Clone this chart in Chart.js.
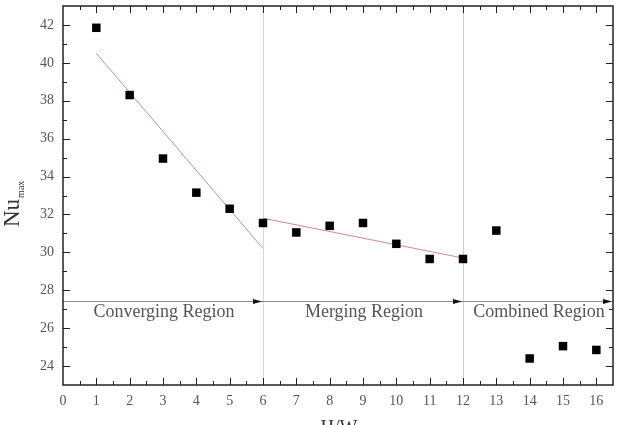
<!DOCTYPE html>
<html>
<head>
<meta charset="utf-8">
<script src="https://cdn.jsdelivr.net/npm/chart.js@4/dist/chart.umd.min.js"></script>
<style>
    html, body { margin: 0; padding: 0; background: #fff; }
    #wrap { width: 625px; height: 425px; position: relative; }
</style>
</head>
<body>
<div id="wrap"><canvas id="nuChart"></canvas></div>
<script>
// H/W ratio and measured Nu_max
const ratio = [1, 2, 3, 4, 5, 6, 7, 8, 9, 10, 11, 12, 13, 14, 15, 16];
const nuMax = [41.85, 38.3, 34.95, 33.15, 32.3, 31.55, 31.05, 31.4, 31.55, 30.45, 29.65, 29.65, 31.15, 24.4, 25.05, 24.85];

// linear fits drawn over the first two regions
const convergingFitX = [1, 6];
const convergingFitY = [40.5, 30.2];
const mergingFitX = [6, 12];
const mergingFitY = [31.8, 29.7];

// regions along the H/W axis
const regionBounds = [0, 6, 12, 16.5];
const regionNames = ['Converging Region', 'Merging Region', 'Combined Region'];
const regionArrowY = 27.43;

const xTicks = [0, 1, 2, 3, 4, 5, 6, 7, 8, 9, 10, 11, 12, 13, 14, 15, 16];
const yTicks = [24, 26, 28, 30, 32, 34, 36, 38, 40, 42];

const toPoints = (xs, ys) => xs.map((x, i) => ({ x: x, y: ys[i] }));

const serif = '"Liberation Serif", "DejaVu Serif", serif';

// region separators go under the markers
const separatorPlugin = {
    id: 'separators',
    beforeDatasetsDraw(chart) {
        const ctx = chart.ctx;
        const a = chart.chartArea;
        const xs = chart.scales.x;
        ctx.save();
        ctx.lineWidth = 1;
        const colors = ['#e6cfe0', '#d4c8ec'];
        [regionBounds[1], regionBounds[2]].forEach((v, i) => {
            const px = Math.round(xs.getPixelForValue(v)) + 0.5;
            ctx.strokeStyle = colors[i];
            ctx.beginPath();
            ctx.moveTo(px, a.top);
            ctx.lineTo(px, a.bottom);
            ctx.stroke();
        });
        ctx.restore();
    }
};

// frame, inward ticks, region arrows and axis titles
const decorPlugin = {
    id: 'decor',
    afterDatasetsDraw(chart) {
        const ctx = chart.ctx;
        const a = chart.chartArea;
        const xs = chart.scales.x;
        const ys = chart.scales.y;
        ctx.save();

        // region arrow line
        const ay = Math.round(ys.getPixelForValue(regionArrowY)) + 0.5;
        ctx.strokeStyle = '#8a8a8a';
        ctx.lineWidth = 1;
        ctx.beginPath();
        ctx.moveTo(a.left, ay);
        ctx.lineTo(a.right, ay);
        ctx.stroke();
        ctx.fillStyle = '#111';
        for (let i = 1; i < regionBounds.length; i++) {
            const tip = xs.getPixelForValue(regionBounds[i]) - 1;
            ctx.beginPath();
            ctx.moveTo(tip, ay);
            ctx.lineTo(tip - 9, ay - 2.5);
            ctx.lineTo(tip - 9, ay + 2.5);
            ctx.closePath();
            ctx.fill();
        }
        ctx.font = '18px ' + serif;
        ctx.fillStyle = '#555';
        ctx.textAlign = 'center';
        ctx.textBaseline = 'middle';
        regionNames.forEach((name, i) => {
            const c = (xs.getPixelForValue(regionBounds[i]) + xs.getPixelForValue(regionBounds[i + 1])) / 2;
            ctx.fillText(name, c + 1, ay + 11);
        });

        // inward ticks
        ctx.strokeStyle = '#222';
        ctx.lineWidth = 1;
        for (let v = 0.5; v <= 16.0001; v += 0.5) {
            const px = Math.round(xs.getPixelForValue(v)) + 0.5;
            const len = Number.isInteger(v) ? 7 : 4;
            ctx.beginPath();
            ctx.moveTo(px, a.bottom);
            ctx.lineTo(px, a.bottom - len);
            ctx.moveTo(px, a.top);
            ctx.lineTo(px, a.top + len);
            ctx.stroke();
        }
        for (let v = 24; v <= 42; v += 1) {
            const py = Math.round(ys.getPixelForValue(v)) + 0.5;
            const len = v % 2 === 0 ? 7 : 4;
            ctx.beginPath();
            ctx.moveTo(a.left, py);
            ctx.lineTo(a.left + len, py);
            ctx.moveTo(a.right, py);
            ctx.lineTo(a.right - len, py);
            ctx.stroke();
        }

        // frame
        ctx.lineWidth = 1.5;
        ctx.strokeStyle = '#222';
        ctx.strokeRect(a.left, a.top, a.right - a.left, a.bottom - a.top);

        // y title with subscript
        ctx.fillStyle = '#333';
        ctx.textAlign = 'left';
        ctx.textBaseline = 'alphabetic';
        ctx.save();
        ctx.translate(19, 227);
        ctx.rotate(-Math.PI / 2);
        ctx.font = '23px ' + serif;
        ctx.fillText('Nu', 0, 0);
        const w = ctx.measureText('Nu').width;
        ctx.font = '10px ' + serif;
        ctx.fillText('max', w + 1, 5);
        ctx.restore();

        // x title (cut by the bottom edge)
        ctx.font = '19px ' + serif;
        ctx.textAlign = 'center';
        ctx.textBaseline = 'top';
        ctx.fillText('H/W', (a.left + a.right) / 2 + 1, 419);

        ctx.restore();
    }
};

const config = {
    type: 'scatter',
    data: {
        datasets: [
            {
                label: 'Converging fit',
                type: 'line',
                data: toPoints(convergingFitX, convergingFitY),
                borderColor: '#d08a8e',
                borderWidth: 1,
                pointRadius: 0,
                order: 2
            },
            {
                label: 'Merging fit',
                type: 'line',
                data: toPoints(mergingFitX, mergingFitY),
                borderColor: '#d08a8e',
                borderWidth: 1,
                pointRadius: 0,
                order: 2
            },
            {
                label: 'Nu max',
                data: toPoints(ratio, nuMax),
                pointStyle: 'rect',
                pointRadius: 6,
                pointHoverRadius: 6,
                backgroundColor: '#000',
                borderColor: '#000',
                borderWidth: 0,
                order: 1
            }
        ]
    },
    options: {
        responsive: false,
        animation: false,
        layout: {
            padding: { top: 4, right: 12, left: 0, bottom: 0 }
        },
        plugins: {
            legend: { display: false },
            tooltip: { enabled: false }
        },
        scales: {
            x: {
                type: 'linear',
                min: 0,
                max: 16.5,
                afterFit(scale) {
                    scale.height = 40;
                    scale.paddingLeft = 0;
                    scale.paddingRight = 0;
                },
                afterBuildTicks(scale) { scale.ticks = xTicks.map(v => ({ value: v })); },
                grid: { display: false, drawTicks: false },
                border: { display: false },
                ticks: {
                    padding: 8,
                    color: '#555',
                    maxRotation: 0,
                    autoSkip: false,
                    font: { family: serif, size: 14 }
                }
            },
            y: {
                type: 'linear',
                min: 23,
                max: 43,
                afterFit(scale) {
                    scale.width = 63;
                    scale.paddingTop = 0;
                    scale.paddingBottom = 0;
                },
                afterBuildTicks(scale) { scale.ticks = yTicks.map(v => ({ value: v })); },
                grid: { display: false, drawTicks: false },
                border: { display: false },
                ticks: {
                    padding: 9,
                    color: '#555',
                    autoSkip: false,
                    font: { family: serif, size: 14 }
                }
            }
        }
    },
    plugins: [separatorPlugin, decorPlugin]
};

const canvas = document.getElementById('nuChart');
canvas.width = 625;
canvas.height = 425;
new Chart(canvas.getContext('2d'), config);
</script>
</body>
</html>
